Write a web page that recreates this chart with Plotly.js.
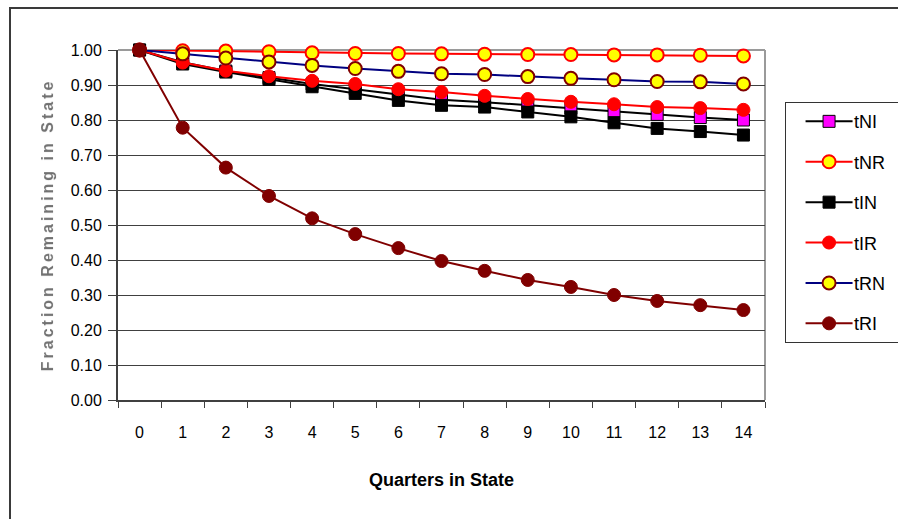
<!DOCTYPE html>
<html>
<head>
<meta charset="utf-8">
<script src="https://cdn.plot.ly/plotly-3.0.1.min.js"></script>
<style>
  html, body { margin: 0; padding: 0; overflow: hidden; background: #ffffff; }
  #chart { position: absolute; left: 0; top: 0; width: 898px; height: 519px; }
  #frame {
    position: absolute; left: 9px; top: 7px; width: 2000px; height: 2000px;
    border-top: 2px solid #3a3a3a; border-left: 2px solid #3a3a3a;
    pointer-events: none; z-index: 5;
  }
  .ytitle { letter-spacing: 3px; filter: blur(0.5px); }
</style>
</head>
<body>
<div id="chart"></div>
<div id="frame"></div>
<script>
// Quarters spent in a state (category axis)
const quarters = ['0','1','2','3','4','5','6','7','8','9','10','11','12','13','14'];

// Fraction remaining in each state transition type, per quarter
const tNI = [1.00, 0.965, 0.940, 0.921, 0.903, 0.888, 0.872, 0.858, 0.851, 0.842, 0.834, 0.826, 0.816, 0.807, 0.800];
const tNR = [1.00, 0.998, 0.997, 0.995, 0.992, 0.990, 0.990, 0.989, 0.988, 0.987, 0.987, 0.986, 0.986, 0.985, 0.983];
const tIN = [1.00, 0.960, 0.937, 0.916, 0.895, 0.876, 0.856, 0.842, 0.837, 0.823, 0.809, 0.792, 0.776, 0.767, 0.757];
const tIR = [1.00, 0.964, 0.941, 0.925, 0.912, 0.903, 0.888, 0.880, 0.869, 0.860, 0.852, 0.845, 0.837, 0.834, 0.829];
const tRN = [1.00, 0.989, 0.977, 0.966, 0.956, 0.947, 0.939, 0.932, 0.930, 0.924, 0.919, 0.915, 0.910, 0.909, 0.903];
const tRI = [1.00, 0.778, 0.664, 0.583, 0.519, 0.474, 0.434, 0.397, 0.369, 0.343, 0.323, 0.300, 0.283, 0.271, 0.257];

const seriesNames = ['tNI', 'tNR', 'tIN', 'tIR', 'tRN', 'tRI'];
const seriesValues = [tNI, tNR, tIN, tIR, tRN, tRI];

const styles = {
  tNI: { line: '#000000', symbol: 'square', size: 12, fill: '#ff00ff', edge: '#000000', edgeW: 1 },
  tNR: { line: '#ff0000', symbol: 'circle', size: 13, fill: '#ffff00', edge: '#ff0000', edgeW: 2 },
  tIN: { line: '#000000', symbol: 'square', size: 12, fill: '#000000', edge: '#000000', edgeW: 1 },
  tIR: { line: '#ff0000', symbol: 'circle', size: 13, fill: '#ff0000', edge: '#ff0000', edgeW: 1 },
  tRN: { line: '#000080', symbol: 'circle', size: 13, fill: '#ffff00', edge: '#800000', edgeW: 2 },
  tRI: { line: '#800000', symbol: 'circle', size: 13, fill: '#800000', edge: '#800000', edgeW: 1 }
};

const traces = seriesNames.map((name, i) => {
  const s = styles[name];
  return {
    type: 'scatter',
    mode: 'lines+markers',
    name: name,
    legendgroup: name,
    x: quarters,
    y: seriesValues[i],
    cliponaxis: false,
    line: { color: s.line, width: 2 },
    marker: { symbol: s.symbol, size: s.size, color: s.fill, line: { color: s.edge, width: s.edgeW } }
  };
});

const baseFont = 'Liberation Sans, Arial, sans-serif';

const layout = {
  width: 898,
  height: 519,
  margin: { l: 118, r: 133, t: 50, b: 119, autoexpand: false },
  paper_bgcolor: '#ffffff',
  plot_bgcolor: '#ffffff',
  font: { family: baseFont, size: 16, color: '#000000' },
  showlegend: true,
  legend: {
    x: 1.031, y: 0.851, xanchor: 'left', yanchor: 'top',
    bordercolor: '#333333', borderwidth: 1, bgcolor: '#ffffff',
    font: { family: baseFont, size: 18, color: '#000000' },
    tracegroupgap: 14,
    itemwidth: 58
  },
  xaxis: {
    type: 'category',
    range: [-0.5, 14.5],
    tickson: 'boundaries',
    ticks: 'outside', ticklen: 6, tickwidth: 1, tickcolor: '#404040',
    showline: true, linecolor: '#404040', linewidth: 2,
    showgrid: false, zeroline: false,
    ticklabelstandoff: 17,
    tickfont: { family: baseFont, size: 16, color: '#000000' },
    title: { text: 'Quarters in State', standoff: 33,
             font: { family: baseFont, size: 18, color: '#000000', weight: 'bold' } }
  },
  yaxis: {
    range: [0, 1],
    dtick: 0.1, tick0: 0, tickformat: '.2f',
    ticks: 'outside', ticklen: 8, tickwidth: 1, tickcolor: '#404040',
    showline: true, linecolor: '#404040', linewidth: 2,
    showgrid: true, gridcolor: '#404040', gridwidth: 1,
    zeroline: false,
    ticklabelstandoff: 3,
    tickfont: { family: baseFont, size: 16, color: '#000000' },
    title: { text: 'Fraction Remaining in State', standoff: 13,
             font: { family: baseFont, size: 16, color: '#707070', weight: 'bold' } }
  },
  shapes: [
    { type: 'line', xref: 'paper', yref: 'paper', x0: 0, x1: 1, y0: 1, y1: 1,
      line: { color: '#9a9a9a', width: 2 }, layer: 'below' },
    { type: 'line', xref: 'paper', yref: 'paper', x0: 1, x1: 1, y0: 0, y1: 1,
      line: { color: '#9a9a9a', width: 2 }, layer: 'below' }
  ]
};

// Legend swatches: a longer line segment with the marker centred on it,
// and a box that runs on past the right edge of the page
function widenLegendSwatches() {
  const bg = document.querySelector('.legend .bg');
  if (!bg) return;
  const boxLeft = bg.getBoundingClientRect().left;
  bg.setAttribute('width', String(parseFloat(bg.getAttribute('width')) + 30));
  document.querySelectorAll('.legend .traces').forEach(item => {
    const originX = item.getScreenCTM().e;
    const start = boxLeft + 20 - originX;
    const len = 47;
    item.querySelectorAll('.legendlines path').forEach(p => {
      p.setAttribute('d', 'M' + start + ',0h' + len);
    });
    item.querySelectorAll('.legendpoints path.scatterpts').forEach(p => {
      p.setAttribute('transform', 'translate(' + (start + len / 2) + ',0)');
    });
  });
}

Plotly.newPlot('chart', traces, layout, { displayModeBar: false, staticPlot: true })
  .then(widenLegendSwatches);
</script>
</body>
</html>
